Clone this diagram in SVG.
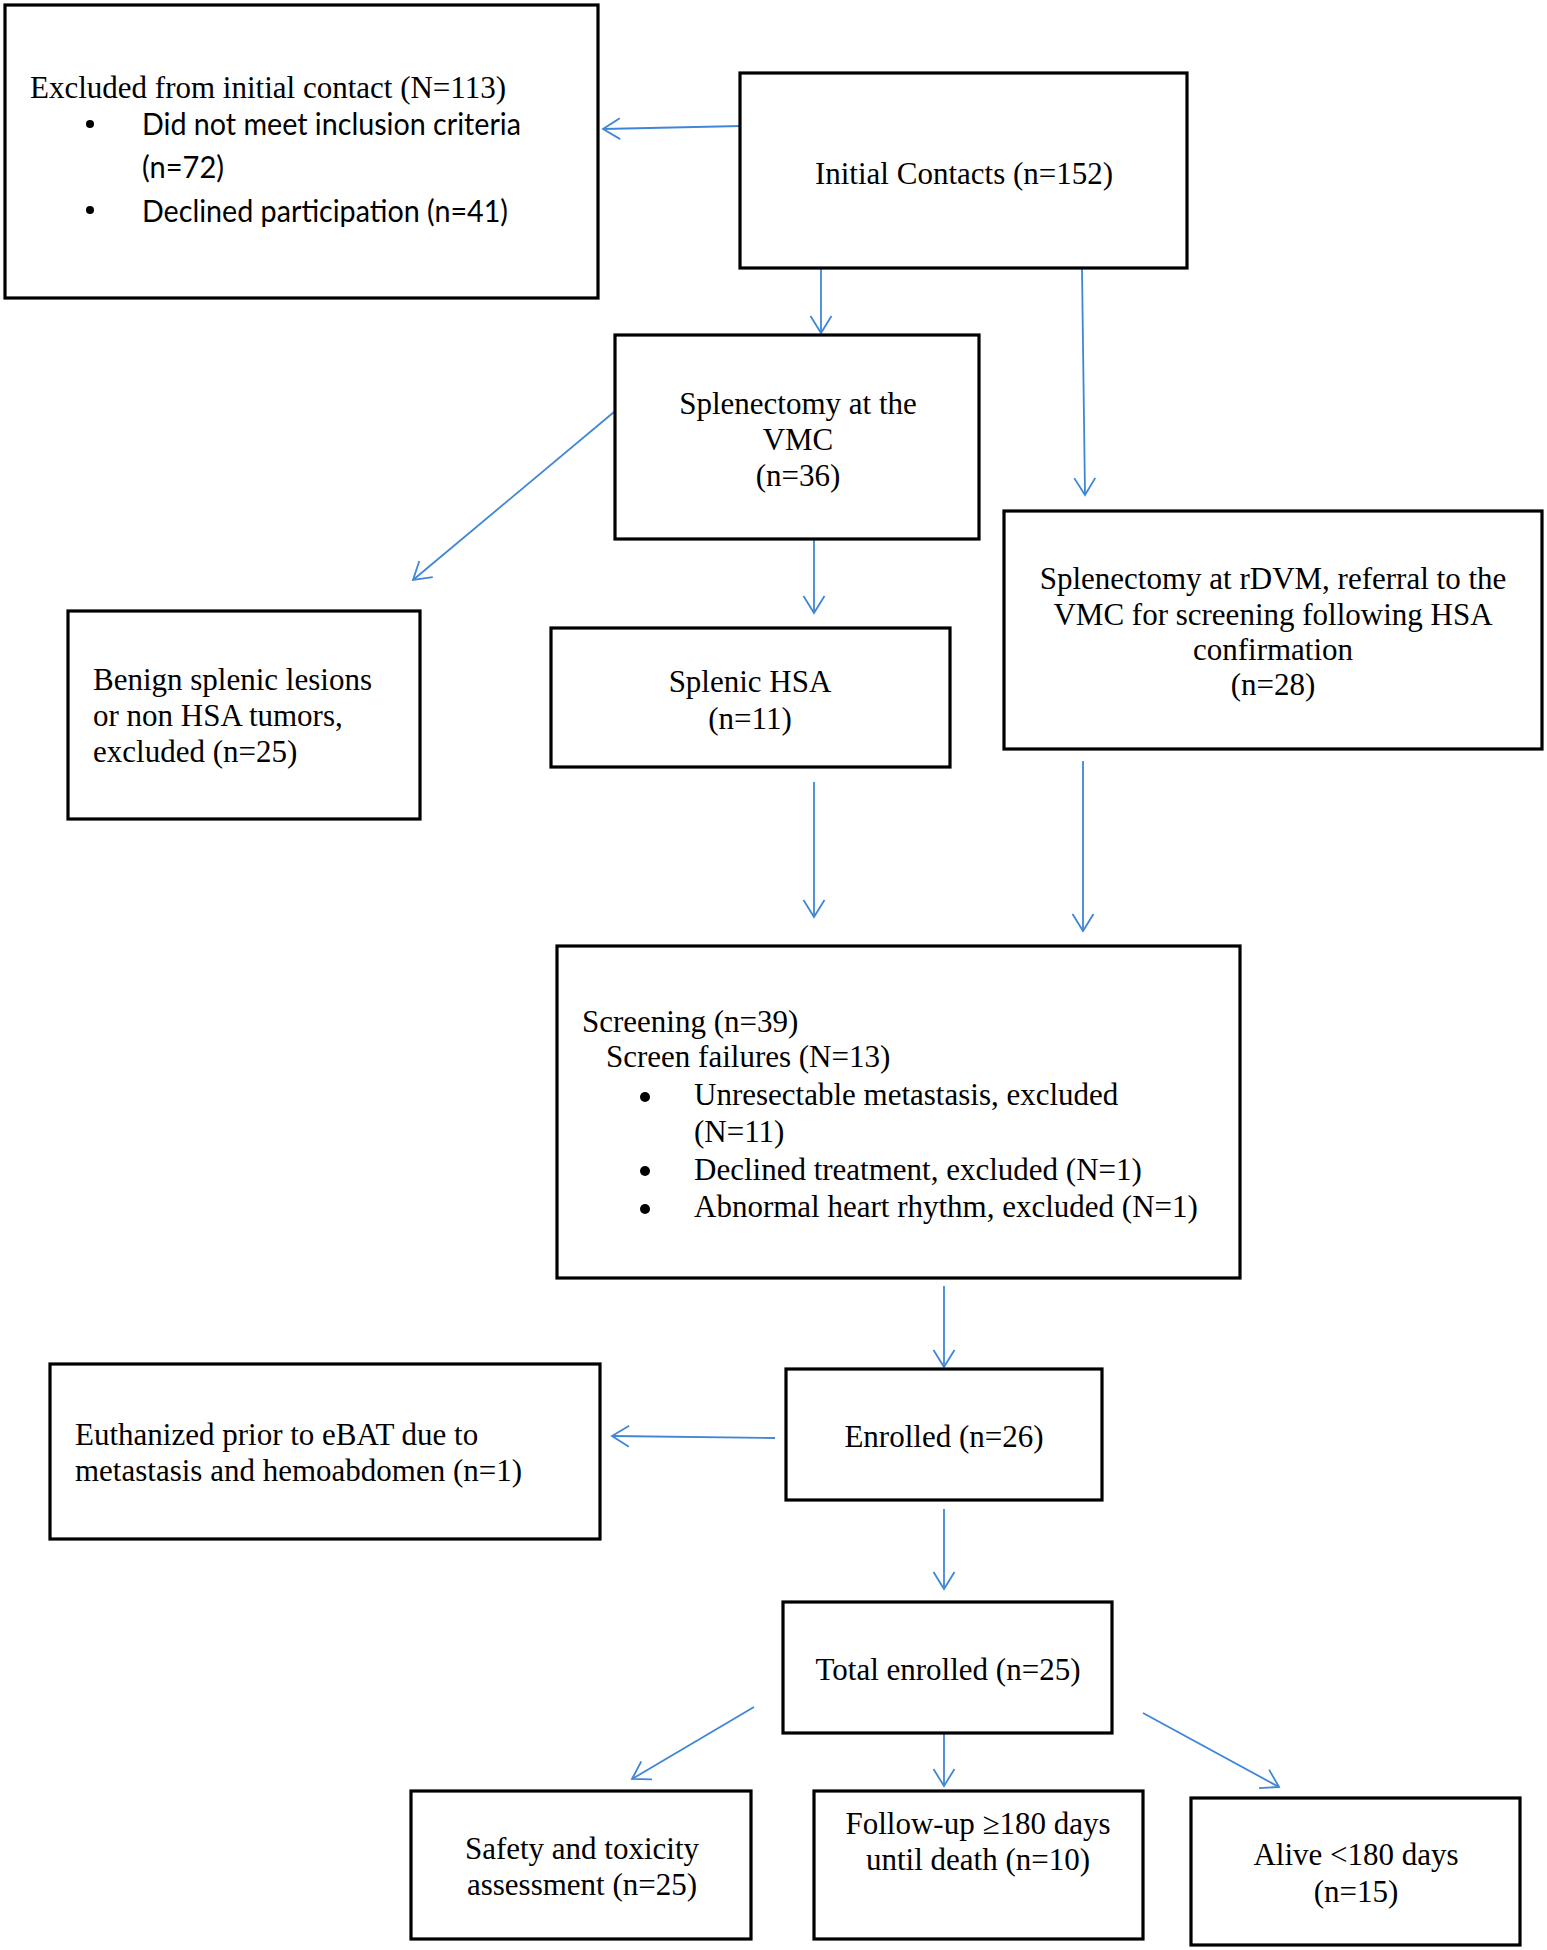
<svg xmlns="http://www.w3.org/2000/svg" width="1547" height="1950" viewBox="0 0 1547 1950">
<style>
.box{fill:#fff;stroke:#000;stroke-width:3.2}
.t{font-family:"Liberation Serif","Times New Roman",serif;font-size:31px;fill:#000}
.c{text-anchor:middle}
.s{font-family:Lato,"Liberation Sans",sans-serif;font-size:30px;fill:#000}
.con{fill:none;stroke:#3F87D6;stroke-width:1.8;marker-end:url(#arr)}
</style>
<defs>
<marker id="arr" markerUnits="userSpaceOnUse" markerWidth="40" markerHeight="40" viewBox="-20 -20 40 40" refX="0" refY="0" orient="auto">
<path d="M-17,-10.5 L0,0 L-17,10.5" fill="none" stroke="#3F87D6" stroke-width="1.8"/>
</marker>
</defs>
<rect width="1547" height="1950" fill="#fff"/>
<g id="connectors">
<path class="con" d="M741,126 L603,129"/>
<path class="con" d="M821,269 L821,333"/>
<path class="con" d="M1082,269 L1085,495"/>
<path class="con" d="M614,412 L413,580"/>
<path class="con" d="M814,540 L814,613"/>
<path class="con" d="M814,782 L814,917"/>
<path class="con" d="M1083,761 L1083,931"/>
<path class="con" d="M944,1286 L944,1367"/>
<path class="con" d="M775,1438 L612,1436"/>
<path class="con" d="M944,1509 L944,1589"/>
<path class="con" d="M754,1707 L632,1779"/>
<path class="con" d="M944,1734 L944,1786"/>
<path class="con" d="M1143,1713 L1279,1787"/>
</g>
<g id="excluded">
<rect class="box" x="5" y="5" width="593" height="293"/>
<text class="t" x="30" y="98">Excluded from initial contact (N=113)</text>
<circle cx="90" cy="124" r="4"/>
<circle cx="90" cy="210" r="4"/>
<text class="s" x="142" y="135" textLength="379" lengthAdjust="spacingAndGlyphs">Did not meet inclusion criteria</text>
<text class="s" x="142" y="178" textLength="82" lengthAdjust="spacingAndGlyphs">(n=72)</text>
<text class="s" x="142" y="222" textLength="366" lengthAdjust="spacingAndGlyphs">Declined participation (n=41)</text>
</g>
<g id="initial">
<rect class="box" x="740" y="73" width="447" height="195"/>
<text class="t c" x="964" y="184">Initial Contacts (n=152)</text>
</g>
<g id="splen-vmc">
<rect class="box" x="615" y="335" width="364" height="204"/>
<text class="t c" x="798" y="414">Splenectomy at the</text>
<text class="t c" x="798" y="450">VMC</text>
<text class="t c" x="798" y="486">(n=36)</text>
</g>
<g id="splen-rdvm">
<rect class="box" x="1004" y="511" width="538" height="238"/>
<text class="t c" x="1273" y="589">Splenectomy at rDVM, referral to the</text>
<text class="t c" x="1273" y="625">VMC for screening following HSA</text>
<text class="t c" x="1273" y="660">confirmation</text>
<text class="t c" x="1273" y="695">(n=28)</text>
</g>
<g id="benign">
<rect class="box" x="68" y="611" width="352" height="208"/>
<text class="t" x="93" y="690">Benign splenic lesions</text>
<text class="t" x="93" y="726">or non HSA tumors,</text>
<text class="t" x="93" y="762">excluded (n=25)</text>
</g>
<g id="splenic-hsa">
<rect class="box" x="551" y="628" width="399" height="139"/>
<text class="t c" x="750" y="692">Splenic HSA</text>
<text class="t c" x="750" y="729">(n=11)</text>
</g>
<g id="screening">
<rect class="box" x="557" y="946" width="683" height="332"/>
<text class="t" x="582" y="1032">Screening (n=39)</text>
<text class="t" x="606" y="1067">Screen failures (N=13)</text>
<circle cx="645" cy="1097" r="5"/>
<circle cx="645" cy="1171" r="5"/>
<circle cx="645" cy="1209" r="5"/>
<text class="t" x="694" y="1105">Unresectable metastasis, excluded</text>
<text class="t" x="694" y="1142">(N=11)</text>
<text class="t" x="694" y="1180">Declined treatment, excluded (N=1)</text>
<text class="t" x="694" y="1217">Abnormal heart rhythm, excluded (N=1)</text>
</g>
<g id="enrolled">
<rect class="box" x="786" y="1369" width="316" height="131"/>
<text class="t c" x="944" y="1447">Enrolled (n=26)</text>
</g>
<g id="euthanized">
<rect class="box" x="50" y="1364" width="550" height="175"/>
<text class="t" x="75" y="1445">Euthanized prior to eBAT due to</text>
<text class="t" x="75" y="1481">metastasis and hemoabdomen (n=1)</text>
</g>
<g id="total">
<rect class="box" x="783" y="1602" width="329" height="131"/>
<text class="t c" x="948" y="1680">Total enrolled (n=25)</text>
</g>
<g id="safety">
<rect class="box" x="411" y="1791" width="340" height="148"/>
<text class="t c" x="582" y="1859">Safety and toxicity</text>
<text class="t c" x="582" y="1895">assessment (n=25)</text>
</g>
<g id="followup">
<rect class="box" x="814" y="1791" width="329" height="148"/>
<text class="t c" x="978" y="1834">Follow-up ≥180 days</text>
<text class="t c" x="978" y="1870">until death (n=10)</text>
</g>
<g id="alive">
<rect class="box" x="1191" y="1798" width="329" height="147"/>
<text class="t c" x="1356" y="1865">Alive &lt;180 days</text>
<text class="t c" x="1356" y="1902">(n=15)</text>
</g>
</svg>
